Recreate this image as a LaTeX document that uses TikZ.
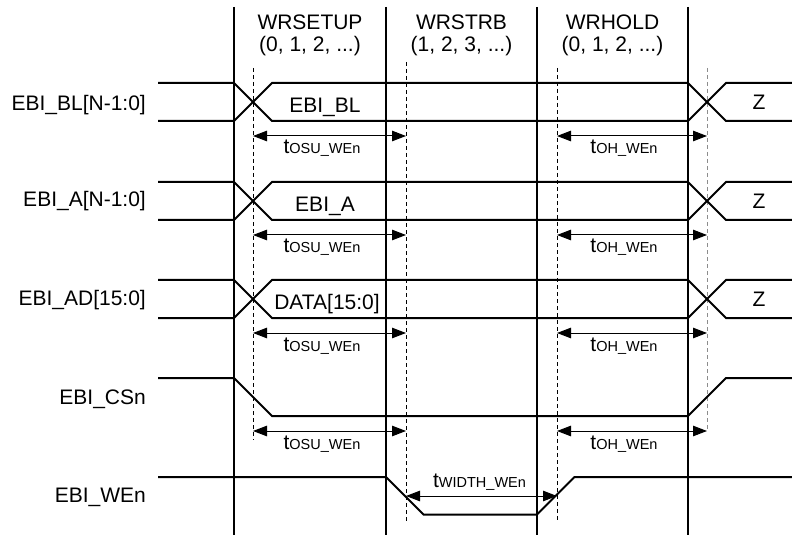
\documentclass[tikz,border=0pt]{standalone}
\usepackage{fontspec}
\setmainfont{Liberation Sans}
\usetikzlibrary{arrows.meta}
\newcommand{\tsub}[1]{t{\fontsize{14.5bp}{16bp}\selectfont #1}}
\begin{document}
\begin{tikzpicture}[x=1bp,y=-1bp,
  sig/.style={line width=2bp},
  bound/.style={line width=2bp},
  guide/.style={line width=1bp, dash pattern=on 4bp off 3bp},
  guidegray/.style={guide, draw=black!45},
  meas/.style={line width=1bp, {Triangle[length=14bp,width=10.5bp]}-{Triangle[length=14bp,width=10.5bp]}},
  txt/.style={font=\fontsize{21bp}{22.4bp}\selectfont, inner sep=0pt},
]
\useasboundingbox (0,0) rectangle (792,535);

% phase boundaries
\foreach \x/\n in {234/b0,386/b1,537/b2,688/b3}{
  \coordinate (\n t) at (\x,7);
  \coordinate (\n b) at (\x,535);
  \draw[bound] (\n t) -- (\n b);
}

% phase headers
\node[txt, anchor=base] (h1a) at (310,29.5) {WRSETUP};
\node[txt, anchor=base] (h1b) at (310,51.7) {(0, 1, 2, ...)};
\node[txt, anchor=base] (h2a) at (461.5,29.5) {WRSTRB};
\node[txt, anchor=base] (h2b) at (461.5,51.7) {(1, 2, 3, ...)};
\node[txt, anchor=base] (h3a) at (612.5,29.5) {WRHOLD};
\node[txt, anchor=base] (h3b) at (612.5,51.7) {(0, 1, 2, ...)};

% dashed guides
\coordinate (g1t) at (253,68);  \coordinate (g1b) at (253,440);
\coordinate (g2t) at (406,62);  \coordinate (g2b) at (406,521);
\coordinate (g3t) at (557,68);  \coordinate (g3b) at (557,521);
\coordinate (g4t) at (707,68);  \coordinate (g4b) at (707,431);
\draw[guide] (g1t) -- (g1b);
\draw[guide] (g2t) -- (g2b);
\draw[guide] (g3t) -- (g3b);
\draw[guidegray] (g4t) -- (g4b);

% signal names
\node[txt, anchor=base east] (nBL) at (146,110.5) {EBI\_BL[N-1:0]};
\node[txt, anchor=base east] (nA)  at (146,207) {EBI\_A[N-1:0]};
\node[txt, anchor=base east] (nAD) at (146,306) {EBI\_AD[15:0]};
\node[txt, anchor=base east] (nCS) at (146,404) {EBI\_CSn};
\node[txt, anchor=base east] (nWE) at (146,502) {EBI\_WEn};

% bus rows
\foreach \h/\v/\dname/\r in {83/EBI\_BL/325/bl, 182/EBI\_A/325/a, 280/DATA[15:0]/327/ad}{
  \pgfmathsetmacro{\l}{\h+38}
  \draw[sig] (158,\h) -- (234,\h) -- (272,\l) -- (688,\l) -- (726,\h) -- (792,\h);
  \draw[sig] (158,\l) -- (234,\l) -- (272,\h) -- (688,\h) -- (726,\l) -- (792,\l);
  \node[txt, anchor=base] (v\r) at (\dname,\h+30) {\v};
  \node[txt, anchor=base] (z\r) at (759,\h+27) {Z};
  % measurements
  \coordinate (ms\r) at (253,\l+15);
  \coordinate (me\r) at (406,\l+15);
  \coordinate (hs\r) at (557,\l+15);
  \coordinate (he\r) at (707,\l+15);
  \draw[meas] (ms\r) -- (me\r);
  \draw[meas] (hs\r) -- (he\r);
  \node[txt, anchor=base] (lo\r) at (322,\l+33) {\tsub{OSU\_WEn}};
  \node[txt, anchor=base] (lh\r) at (624,\l+33) {\tsub{OH\_WEn}};
}

% chip select
\draw[sig] (158,378) -- (234,378) -- (272,416) -- (688,416) -- (726,378) -- (792,378);
\coordinate (mscs) at (253,431);
\coordinate (mecs) at (406,431);
\coordinate (hscs) at (557,431);
\coordinate (hecs) at (707,431);
\draw[meas] (mscs) -- (mecs);
\draw[meas] (hscs) -- (hecs);
\node[txt, anchor=base] (locs) at (322,449) {\tsub{OSU\_WEn}};
\node[txt, anchor=base] (lhcs) at (624,449) {\tsub{OH\_WEn}};

% write enable
\draw[sig] (158,477) -- (386,477) -- (423.5,514.5) -- (537,514.5) -- (574.5,477) -- (792,477);
\coordinate (wa) at (406,496);
\coordinate (wb) at (557,496);
\draw[meas] (wa) -- (wb);
\node[txt, anchor=base] (lw) at (479.5,487) {\tsub{WIDTH\_WEn}};
\end{tikzpicture}
\end{document}
